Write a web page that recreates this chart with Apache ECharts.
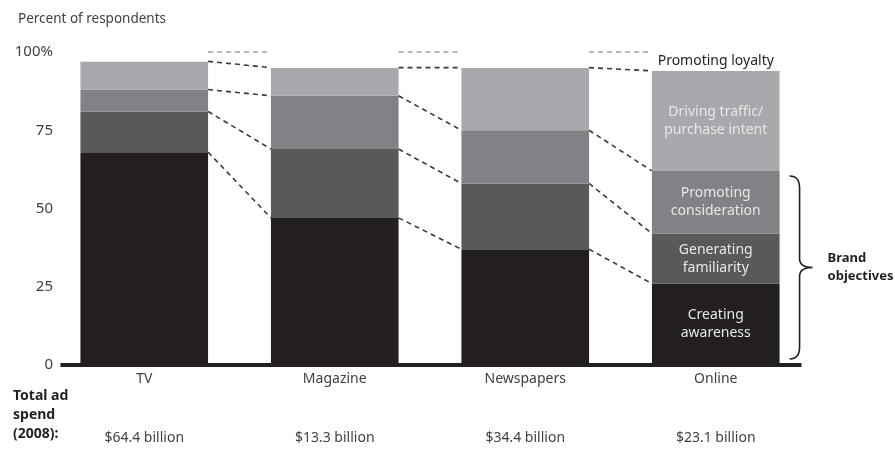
<!DOCTYPE html>
<html>
<head>
<meta charset="utf-8">
<script src="https://cdn.jsdelivr.net/npm/echarts@6/dist/echarts.min.js"></script>
<style>
  html, body { margin: 0; padding: 0; background: #fff; }
  #chart { width: 895px; height: 450px; }
</style>
</head>
<body>
<div id="chart"></div>
<script>
// Media channels and total 2008 ad spend per channel
const categories = ['TV', 'Magazine', 'Newspapers', 'Online'];
const spendLabels = ['$64.4 billion', '$13.3 billion', '$34.4 billion', '$23.1 billion'];

// Share of respondents (%) naming each objective, stacked bottom to top
const creatingAwareness = [68, 47, 37, 26];
const generatingFamiliarity = [13, 22, 21, 16];
const promotingConsideration = [7, 17, 17, 20];
const drivingTraffic = [9, 9, 20, 32];
const promotingLoyalty = [3, 5, 5, 6];

const segmentNames = [
  'Creating\nawareness',
  'Generating\nfamiliarity',
  'Promoting\nconsideration',
  'Driving traffic/\npurchase intent',
  'Promoting loyalty'
];
const yTicks = [0, 25, 50, 75, 100];

const FONT = '"Noto Sans", sans-serif';
const BAR_RATIO = 0.67;
const segments = [creatingAwareness, generatingFamiliarity, promotingConsideration, drivingTraffic, promotingLoyalty];
const segmentColors = ['#231f20', '#58595b', '#808285', '#a7a9ac', '#ffffff'];

// cumulative level of every segment top, per channel
const cumulative = categories.map((c, i) => {
  let s = 0;
  return segments.map(arr => (s += arr[i]));
});
// the brace spans the three brand objectives of the last channel
const BRAND_LEVELS = 3;

const chart = echarts.init(document.getElementById('chart'), null, { renderer: 'canvas' });

const barSeries = segments.map((arr, k) => ({
  type: 'bar',
  name: segmentNames[k],
  stack: 'total',
  barWidth: (BAR_RATIO * 100) + '%',
  data: arr,
  itemStyle: { color: segmentColors[k] },
  label: {
    show: true,
    position: 'inside',
    fontFamily: FONT,
    fontSize: 14,
    lineHeight: 18,
    color: k === 4 ? '#231f20' : '#e6e7e8',
    formatter: p => (p.dataIndex === categories.length - 1 ? segmentNames[k] : '')
  },
  emphasis: { disabled: true },
  silent: true
}));

// baseline, dashed connectors between bars, and the brand-objectives brace
const overlaySeries = {
  type: 'custom',
  data: categories.map((c, i) => [i, 0]),
  encode: { x: 0, y: 1 },
  silent: true,
  z: 5,
  renderItem: function (params, api) {
    const i = api.value(0);
    const band = api.size([1, 0])[0];
    const half = band * BAR_RATIO / 2;
    const children = [];
    const last = categories.length - 1;
    if (i === 0) {
      const s = api.coord([0, 0]);
      const e = api.coord([last, 0]);
      children.push({
        type: 'line',
        shape: { x1: s[0] - band * 0.44, y1: s[1], x2: e[0] + band * 0.45, y2: e[1] },
        style: { stroke: '#231f20', lineWidth: 4 }
      });
    }
    if (i < last) {
      cumulative[i].forEach((lvl, k) => {
        const a = api.coord([i, lvl]);
        const b = api.coord([i + 1, cumulative[i + 1][k]]);
        children.push({
          type: 'line',
          shape: { x1: a[0] + half, y1: a[1], x2: b[0] - half, y2: b[1] },
          style: {
            stroke: k === segments.length - 1 ? '#a0a0a0' : '#3a3a3a',
            lineWidth: 1.6,
            lineDash: [5, 4]
          }
        });
      });
    } else {
      const top = api.coord([i, cumulative[i][BRAND_LEVELS - 1]]);
      const bot = api.coord([i, 0]);
      const x0 = top[0] + half + 10;
      const xs = x0 + 10;
      const xt = x0 + 23;
      const yT = top[1] + 5;
      const yB = bot[1] - 6;
      const yM = (yT + yB) / 2;
      const d = `M${x0},${yT} Q${xs},${yT} ${xs},${yT + 12} L${xs},${yM - 9} Q${xs},${yM} ${xt},${yM} ` +
        `Q${xs},${yM} ${xs},${yM + 9} L${xs},${yB - 12} Q${xs},${yB} ${x0},${yB}`;
      children.push({
        type: 'path',
        shape: { pathData: d },
        style: { fill: 'none', stroke: '#231f20', lineWidth: 1.6 }
      });
      children.push({
        type: 'text',
        x: xt + 15,
        y: yM,
        style: {
          text: 'Brand\nobjectives',
          font: 'bold 13px ' + FONT,
          fill: '#231f20',
          lineHeight: 18,
          verticalAlign: 'middle',
          align: 'left'
        }
      });
    }
    return { type: 'group', children };
  }
};

chart.setOption({
  animation: false,
  backgroundColor: '#ffffff',
  title: {
    text: 'Percent of respondents',
    left: 13,
    top: 7,
    textStyle: { fontFamily: FONT, fontSize: 13.5, fontWeight: 'normal', color: '#414042' }
  },
  grid: { left: 49, right: 84, top: 52, bottom: 85, containLabel: false },
  xAxis: [
    {
      type: 'category',
      data: categories,
      axisLine: { show: false },
      axisTick: { show: false },
      axisLabel: { fontFamily: FONT, fontSize: 14, color: '#414042', margin: 7 }
    },
    {
      type: 'category',
      data: spendLabels,
      position: 'bottom',
      offset: 61,
      axisLine: { show: false },
      axisTick: { show: false },
      axisLabel: { fontFamily: FONT, fontSize: 14, color: '#414042', margin: 5 }
    }
  ],
  yAxis: {
    type: 'value',
    min: yTicks[0],
    max: yTicks[yTicks.length - 1],
    interval: yTicks[1] - yTicks[0],
    offset: -12,
    splitLine: { show: false },
    axisLine: { show: false },
    axisTick: { show: false },
    axisLabel: {
      fontFamily: FONT,
      fontSize: 15,
      color: '#414042',
      margin: 8,
      formatter: v => (v === yTicks[yTicks.length - 1] ? v + '%' : String(v))
    }
  },
  graphic: [
    {
      type: 'text',
      left: 13,
      top: 387,
      style: {
        text: 'Total ad\nspend\n(2008):',
        font: 'bold 14px ' + FONT,
        fill: '#231f20',
        lineHeight: 19
      }
    }
  ],
  series: [...barSeries, overlaySeries]
});
</script>
</body>
</html>
